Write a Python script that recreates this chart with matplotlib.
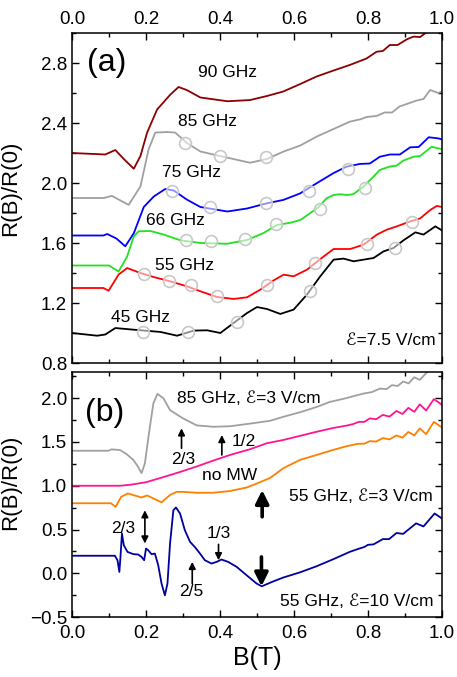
import matplotlib
matplotlib.use('Agg')
import matplotlib.pyplot as plt
from matplotlib.ticker import MultipleLocator

plt.rcParams['font.family'] = ['Liberation Sans', 'DejaVu Sans']

# ---- panel (a): E = 7.5 V/cm ----
b90 = [0.0, 0.09, 0.117, 0.14, 0.167, 0.185, 0.203, 0.23, 0.266, 0.288, 0.31, 0.347, 0.42, 0.481,
       0.527, 0.571, 0.617, 0.661, 0.707, 0.751, 0.796, 0.823, 0.84, 0.859, 0.88, 0.905, 0.923, 0.941, 0.955]
r90 = [2.20, 2.19, 2.22, 2.16, 2.095, 2.18, 2.336, 2.49, 2.59, 2.64, 2.62, 2.57, 2.545, 2.553,
       2.58, 2.61, 2.66, 2.71, 2.75, 2.787, 2.83, 2.875, 2.88, 2.92, 2.92, 2.958, 2.976, 2.973, 3.0]

b85 = [0.0, 0.086, 0.108, 0.153, 0.185, 0.207, 0.225, 0.257, 0.279, 0.31, 0.347, 0.40, 0.481,
       0.527, 0.571, 0.617, 0.661, 0.707, 0.751, 0.78, 0.796, 0.823, 0.845, 0.865, 0.885, 0.905,
       0.932, 0.95, 0.968, 0.99, 1.0]
r85 = [1.90, 1.90, 1.914, 1.854, 1.977, 2.224, 2.336, 2.34, 2.336, 2.268, 2.21, 2.18, 2.135,
       2.16, 2.209, 2.25, 2.309, 2.36, 2.409, 2.425, 2.44, 2.447, 2.47, 2.47, 2.51, 2.527,
       2.55, 2.56, 2.62, 2.60, 2.61]

b75 = [0.0, 0.085, 0.095, 0.12, 0.144, 0.167, 0.194, 0.221, 0.252, 0.275, 0.31, 0.347, 0.42,
       0.473, 0.527, 0.571, 0.616, 0.661, 0.706, 0.742, 0.778, 0.805, 0.832, 0.859, 0.886, 0.914,
       0.937, 0.964, 0.991, 1.0]
r75 = [1.65, 1.65, 1.66, 1.63, 1.578, 1.665, 1.84, 1.91, 1.96, 1.95, 1.89, 1.84, 1.81,
       1.83, 1.865, 1.887, 1.93, 1.998, 2.065, 2.109, 2.127, 2.13, 2.175, 2.19, 2.19, 2.238,
       2.24, 2.305, 2.297, 2.29]

b66 = [0.0, 0.1, 0.126, 0.149, 0.167, 0.18, 0.212, 0.248, 0.293, 0.347, 0.419, 0.473, 0.518,
       0.554, 0.59, 0.617, 0.667, 0.688, 0.707, 0.724, 0.743, 0.76, 0.787, 0.814, 0.832, 0.859,
       0.877, 0.895, 0.923, 0.941, 0.972, 1.0]
r66 = [1.45, 1.45, 1.41, 1.51, 1.644, 1.678, 1.68, 1.656, 1.618, 1.60, 1.595, 1.62, 1.667,
       1.72, 1.735, 1.753, 1.84, 1.898, 1.92, 1.925, 1.92, 1.925, 1.975, 2.04, 2.087, 2.11,
       2.115, 2.149, 2.175, 2.18, 2.242, 2.225]

b55 = [0.0, 0.085, 0.099, 0.126, 0.149, 0.185, 0.221, 0.266, 0.311, 0.347, 0.392, 0.437, 0.473,
       0.509, 0.545, 0.572, 0.599, 0.635, 0.671, 0.707, 0.752, 0.788, 0.824, 0.851, 0.878, 0.914,
       0.941, 0.968, 0.986, 1.0]
r55 = [1.30, 1.30, 1.282, 1.39, 1.433, 1.40, 1.373, 1.344, 1.311, 1.278, 1.24, 1.227, 1.238,
       1.289, 1.351, 1.389, 1.378, 1.422, 1.493, 1.56, 1.56, 1.589, 1.656, 1.689, 1.711, 1.744,
       1.764, 1.82, 1.847, 1.84]

b45 = [0.0, 0.068, 0.09, 0.117, 0.167, 0.239, 0.284, 0.329, 0.365, 0.401, 0.437, 0.473, 0.5,
       0.527, 0.563, 0.599, 0.635, 0.671, 0.707, 0.734, 0.761, 0.788, 0.815, 0.842, 0.869, 0.896,
       0.928, 0.95, 0.982, 1.0]
r45 = [1.0, 0.982, 0.99, 1.033, 1.022, 1.007, 0.982, 1.016, 1.018, 1.0, 1.067, 1.133, 1.173,
       1.16, 1.127, 1.156, 1.256, 1.378, 1.489, 1.496, 1.478, 1.489, 1.5, 1.544, 1.567, 1.618,
       1.671, 1.656, 1.711, 1.684]

# open circles marking resonances
circ_b = [0.306, 0.401, 0.523,
          0.27, 0.372, 0.524, 0.64, 0.745,
          0.308, 0.376, 0.468, 0.55, 0.669, 0.793,
          0.194, 0.261, 0.321, 0.392, 0.527, 0.658, 0.797, 0.919,
          0.191, 0.314, 0.446, 0.642, 0.872]
circ_r = [2.27, 2.18, 2.175,
          1.95, 1.838, 1.865, 1.95, 2.096,
          1.618, 1.614, 1.63, 1.726, 1.83, 1.966,
          1.396, 1.349, 1.32, 1.244, 1.322, 1.467, 1.596, 1.742,
          1.004, 1.004, 1.071, 1.278, 1.567]

# ---- panel (b) ----
bg = [0.0, 0.098, 0.107, 0.13, 0.148, 0.166, 0.178, 0.188, 0.197, 0.208, 0.22, 0.231, 0.247,
      0.265, 0.30, 0.337, 0.382, 0.427, 0.481, 0.535, 0.571, 0.616, 0.661, 0.697, 0.74, 0.787,
      0.81, 0.832, 0.85, 0.865, 0.88, 0.895, 0.91, 0.925, 0.94, 0.96]
rg = [1.40, 1.40, 1.416, 1.408, 1.36, 1.294, 1.22, 1.144, 1.256, 1.60, 1.943, 2.05, 2.0,
      1.864, 1.77, 1.69, 1.674, 1.68, 1.71, 1.742, 1.788, 1.84, 1.90, 1.958, 2.0, 2.053,
      2.07, 2.11, 2.105, 2.15, 2.14, 2.19, 2.17, 2.24, 2.21, 2.30]

bp = [0.0, 0.13, 0.157, 0.2, 0.247, 0.29, 0.337, 0.38, 0.427, 0.481, 0.526, 0.571, 0.616, 0.661,
      0.706, 0.745, 0.76, 0.775, 0.79, 0.805, 0.822, 0.84, 0.858, 0.877, 0.893, 0.909, 0.925,
      0.94, 0.957, 0.978, 1.0]
rp = [1.0, 1.0, 1.011, 1.04, 1.099, 1.155, 1.22, 1.285, 1.352, 1.417, 1.485, 1.523, 1.57, 1.617,
      1.66, 1.69, 1.705, 1.73, 1.73, 1.77, 1.76, 1.81, 1.79, 1.855, 1.82, 1.89, 1.845,
      1.93, 1.86, 1.99, 1.925]

bo = [0.0, 0.105, 0.118, 0.133, 0.151, 0.175, 0.188, 0.203, 0.22, 0.242, 0.265, 0.283, 0.30,
      0.337, 0.382, 0.427, 0.472, 0.499, 0.535, 0.571, 0.616, 0.661, 0.706, 0.745, 0.775, 0.79,
      0.805, 0.822, 0.84, 0.858, 0.877, 0.893, 0.909, 0.925, 0.94, 0.957, 0.978, 1.0]
ro = [0.80, 0.80, 0.76, 0.874, 0.912, 0.882, 0.866, 0.889, 0.855, 0.81, 0.895, 0.93, 0.93,
      0.92, 0.92, 0.94, 0.98, 1.025, 1.088, 1.20, 1.295, 1.352, 1.41, 1.455, 1.48, 1.48,
      1.51, 1.505, 1.545, 1.53, 1.575, 1.55, 1.615, 1.575, 1.655, 1.59, 1.73, 1.665]

bb = [0.0, 0.116, 0.123, 0.128, 0.131, 0.135, 0.14, 0.15, 0.166, 0.179, 0.188, 0.195, 0.2,
      0.206, 0.215, 0.224, 0.233, 0.242, 0.251, 0.258, 0.265, 0.274, 0.281, 0.292, 0.305, 0.319,
      0.332, 0.346, 0.359, 0.377, 0.391, 0.404, 0.422, 0.445, 0.472, 0.499, 0.513, 0.54, 0.571,
      0.616, 0.661, 0.706, 0.751, 0.775, 0.79, 0.80, 0.815, 0.84, 0.857, 0.877, 0.895, 0.93,
      0.95, 0.98, 1.0]
rb = [0.2, 0.2, 0.148, 0.015, 0.187, 0.454, 0.32, 0.244, 0.218, 0.214, 0.187, 0.149, 0.282,
      0.263, 0.218, 0.225, 0.092, -0.118, -0.252, -0.118, 0.34, 0.72, 0.752, 0.683, 0.492, 0.359,
      0.30, 0.225, 0.149, 0.111, 0.13, 0.157, 0.13, 0.073, -0.023, -0.118, -0.149, -0.10, -0.049,
      0.01, 0.08, 0.16, 0.245, 0.28, 0.30, 0.325, 0.33, 0.39, 0.39, 0.46, 0.45, 0.57,
      0.535, 0.683, 0.626]

W, H = 457, 677
fig = plt.figure(figsize=(W / 100, H / 100), dpi=100)
ax1 = fig.add_axes([72 / W, 1 - 363 / H, 370 / W, 330 / H])
ax2 = fig.add_axes([72 / W, 1 - 617 / H, 370 / W, 245 / H])

lw = 1.3
ax1.plot(b90, r90, color='#8b0000', lw=lw)
ax1.plot(b85, r85, color='#a0a0a0', lw=lw)
ax1.plot(b75, r75, color='#0000ff', lw=lw)
ax1.plot(b66, r66, color='#22e022', lw=lw)
ax1.plot(b55, r55, color='#ff0000', lw=lw)
ax1.plot(b45, r45, color='black', lw=lw)
ax1.plot(circ_b, circ_r, 'o', ms=8.5, mfc=(1, 1, 1, 0.55), mec='#c8c8c8', mew=1.2, ls='none')

ax2.plot(bg, rg, color='#a0a0a0', lw=lw)
ax2.plot(bp, rp, color='#ff1493', lw=lw)
ax2.plot(bo, ro, color='#ff8000', lw=lw)
ax2.plot(bb, rb, color='#0000a0', lw=lw)

fs = 12.5
ax1.text(0.093, 2.80, '(a)', fontsize=23, ha='center', va='center')
ax1.text(0.419, 2.735, '90 GHz', fontsize=fs, ha='center', va='center')
ax1.text(0.367, 2.408, '85 GHz', fontsize=fs, ha='center', va='center')
ax1.text(0.322, 2.067, '75 GHz', fontsize=fs, ha='center', va='center')
ax1.text(0.279, 1.753, '66 GHz', fontsize=fs, ha='center', va='center')
ax1.text(0.305, 1.451, '55 GHz', fontsize=fs, ha='center', va='center')
ax1.text(0.185, 1.104, '45 GHz', fontsize=fs, ha='center', va='center')
ax1.text(0.982, 0.951, 'ℰ=7.5 V/cm', fontsize=fs, ha='right', va='center')

ax2.text(0.089, 1.83, '(b)', fontsize=23, ha='center', va='center')
ax2.text(0.285, 2.0, '85 GHz, ℰ=3 V/cm', fontsize=fs, ha='left', va='center')
ax2.text(0.975, 0.879, '55 GHz, ℰ=3 V/cm', fontsize=fs, ha='right', va='center')
ax2.text(0.978, -0.322, '55 GHz, ℰ=10 V/cm', fontsize=fs, ha='right', va='center')
ax2.text(0.427, 1.114, 'no MW', fontsize=fs, ha='center', va='center')
ax2.text(0.30, 1.295, '2/3', fontsize=fs, ha='center', va='center')
ax2.text(0.463, 1.503, '1/2', fontsize=fs, ha='center', va='center')
ax2.text(0.138, 0.51, '2/3', fontsize=fs, ha='center', va='center')
ax2.text(0.396, 0.454, '1/3', fontsize=fs, ha='center', va='center')
ax2.text(0.323, -0.214, '2/5', fontsize=fs, ha='center', va='center')

thin = dict(arrowstyle='-|>', color='black', lw=1.2, mutation_scale=10, shrinkA=0, shrinkB=0)
thick = dict(arrowstyle='-|>', color='black', lw=2.6, mutation_scale=20, shrinkA=0, shrinkB=0)
ax2.annotate('', xy=(0.296, 1.656), xytext=(0.296, 1.428), arrowprops=thin)
ax2.annotate('', xy=(0.405, 1.58), xytext=(0.405, 1.352), arrowprops=thin)
ax2.annotate('', xy=(0.325, 0.13), xytext=(0.325, -0.118), arrowprops=thin)
ax2.annotate('', xy=(0.396, 0.149), xytext=(0.396, 0.33), arrowprops=thin)
ax2.annotate('', xy=(0.197, 0.34), xytext=(0.197, 0.72),
             arrowprops=dict(thin, arrowstyle='<|-|>'))
ax2.annotate('', xy=(0.514, 0.95), xytext=(0.514, 0.645), arrowprops=thick)
ax2.annotate('', xy=(0.512, -0.149), xytext=(0.512, 0.187), arrowprops=thick)

for ax in (ax1, ax2):
    ax.set_xlim(0, 1)
    ax.xaxis.set_major_locator(MultipleLocator(0.2))
    ax.xaxis.set_minor_locator(MultipleLocator(0.1))
    ax.tick_params(which='both', direction='in', top=True, right=True, labelsize=13.5)
    ax.tick_params(which='major', length=5, width=1)
    ax.tick_params(which='minor', length=3, width=1)
    for s in ax.spines.values():
        s.set_linewidth(1.1)

ax1.set_ylim(0.8, 3.0)
ax1.yaxis.set_major_locator(MultipleLocator(0.4))
ax1.yaxis.set_minor_locator(MultipleLocator(0.2))
ax1.tick_params(labelbottom=False, labeltop=True)
ax1.set_ylabel('R(B)/R(0)', fontsize=16)
ax1.yaxis.set_label_coords(-0.138, 0.53)

ax2.set_ylim(-0.5, 2.3)
ax2.yaxis.set_major_locator(MultipleLocator(0.5))
ax2.yaxis.set_minor_locator(MultipleLocator(0.25))
ax2.tick_params(axis='x', pad=6)
ax2.set_ylabel('R(B)/R(0)', fontsize=16)
ax2.yaxis.set_label_coords(-0.138, 0.55)
ax2.set_xlabel('B(T)', fontsize=18, labelpad=3)

fig.savefig('out.png', dpi=100)
